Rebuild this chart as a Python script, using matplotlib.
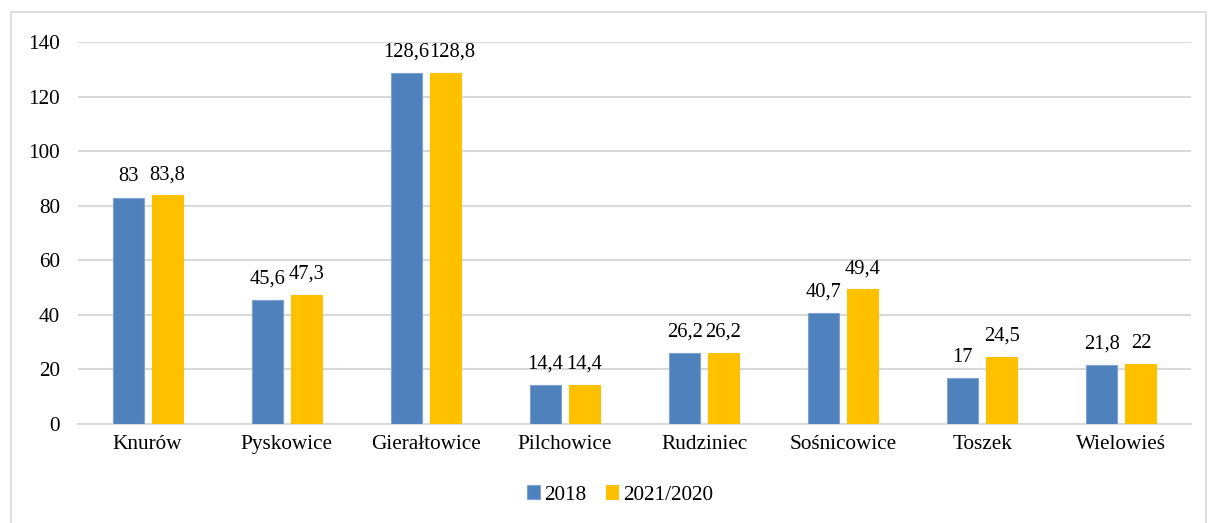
import numpy as np
import matplotlib.pyplot as plt
from matplotlib.patches import Rectangle

plt.rcParams['font.family'] = ['Liberation Serif', 'DejaVu Serif']

categories = ['Knurów', 'Pyskowice', 'Gierałtowice', 'Pilchowice',
              'Rudziniec', 'Sośnicowice', 'Toszek', 'Wielowieś']
vals_2018 = [83, 45.6, 128.6, 14.4, 26.2, 40.7, 17, 21.8]
vals_2021 = [83.8, 47.3, 128.8, 14.4, 26.2, 49.4, 24.5, 22]
series_names = ['2018', '2021/2020']

fig = plt.figure(figsize=(12.09, 5.23), dpi=100)
ax = fig.add_axes([78 / 1209, 1 - 424 / 523, (1191 - 78) / 1209, (424 - 42) / 523])

# outer frame like the Excel chart border
fig.patches.append(Rectangle((11 / 1209, -0.05), (1206 - 11) / 1209, 1.05 - 12 / 523,
                             transform=fig.transFigure, fill=False,
                             edgecolor='#D9D9D9', linewidth=1.2))

x = np.arange(len(categories))
w = 0.223
off = 0.14
b1 = ax.bar(x - off, vals_2018, w, color='#4F81BD', edgecolor='#7FA3D0', linewidth=0.8,
            label=series_names[0], zorder=3)
b2 = ax.bar(x + off, vals_2021, w, color='#FFC000', edgecolor='#FFC000', linewidth=0.8,
            label=series_names[1], zorder=3)

fmt = lambda v: (f'{v:g}').replace('.', ',')
for k, (bars, vals) in enumerate(((b1, vals_2018), (b2, vals_2021))):
    for r, v in zip(bars, vals):
        # wide labels on the right bar get nudged right, as Excel does
        dx = 5 if (k == 1 and len(fmt(v)) > 4) else 0
        ax.annotate(fmt(v), (r.get_x() + r.get_width() / 2, v), xytext=(dx, 8),
                    textcoords='offset points', ha='center', va='bottom', fontsize=14.8)

ax.set_xlim(-0.5, len(categories) - 0.5)
ax.set_ylim(0, 140)
ax.set_yticks(range(0, 141, 20))
ax.set_xticks(x)
ax.set_xticklabels(categories)
ax.tick_params(axis='both', length=0, labelsize=15.3)
ax.tick_params(axis='x', pad=8)
ax.tick_params(axis='y', pad=13)
ax.grid(axis='y', color='#D9D9D9', linewidth=1.5, zorder=0)
for s in ['top', 'right', 'left']:
    ax.spines[s].set_visible(False)
ax.spines['bottom'].set_color('#D9D9D9')
ax.spines['bottom'].set_linewidth(1.5)

fig.legend(handles=[b1, b2], loc='center', bbox_to_anchor=(620 / 1209, 1 - 495 / 523),
           ncol=2, frameon=False, fontsize=15.3, handlelength=0.6, handleheight=0.6,
           handletextpad=0.2, columnspacing=0.9)

fig.savefig('out.png', dpi=100)
